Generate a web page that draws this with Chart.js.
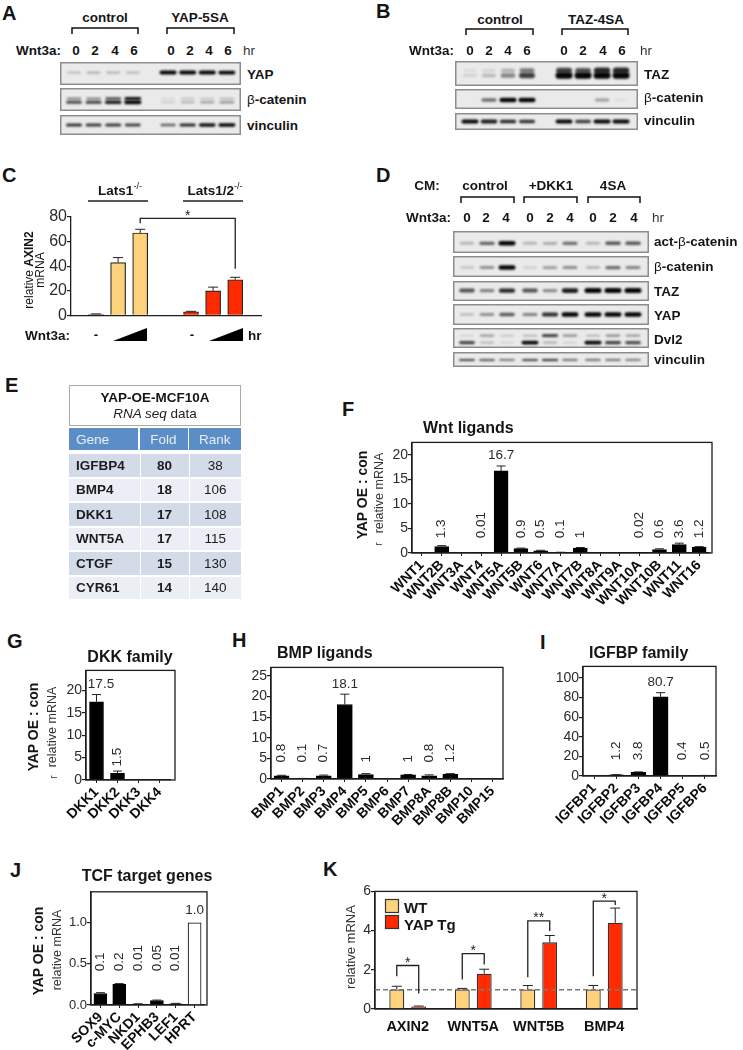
<!DOCTYPE html>
<html>
<head>
<meta charset="utf-8">
<script src="https://cdn.jsdelivr.net/npm/chart.js@4/dist/chart.umd.min.js"></script>
<style>
html,body{margin:0;padding:0;background:#fff;}
#page{position:relative;width:743px;height:1050px;overflow:hidden;background:#fff;filter:blur(0.35px);font-family:"Liberation Sans",Arial,sans-serif;color:#151515;}
#page canvas{position:absolute;}
.t{position:absolute;white-space:nowrap;line-height:1;}
.b{position:absolute;}
.c{position:absolute;box-sizing:border-box;display:flex;align-items:center;font-size:13.5px;color:#1c1c1c;}
sup{font-size:9px;font-weight:400;line-height:0;position:relative;top:-1px;vertical-align:super;}
</style>
</head>
<body>
<div id="page"></div>
<script>
/* ---------- DATA ---------- */
// Panel A blots
const hoursA = ['0','2','4','6'];
const blotA_YAP = [.16,.22,.2,.18,1,1,1,.95];
const blotA_Bcat = [.65,.7,.85,1,.1,.22,.27,.32];
const blotA_BcatUpper = [.4,.4,.65,.9,.06,.14,.14,.22];
const blotA_Vinculin = [.75,.72,.72,.68,.55,.8,.9,1];
// Panel B blots
const blotB_TAZ = [.08,.18,.4,.7,1,1,1,1];
const blotB_TAZUpper = [.02,.06,.22,.45,.7,.62,.8,.8];
const blotB_Bcat = [0,.5,1,1,0,0,.3,.03];
const blotB_Vinculin = [1,.85,.8,.75,.95,.7,1,1];
// Panel D blots
const hoursD = ['0','2','4'];
const blotD_Act = [.22,.55,1,.22,.25,.5,.22,.6,.6];
const blotD_Bcat = [.14,.36,1,.1,.32,.38,.22,.52,.42];
const blotD_TAZ = [.62,.42,.8,.62,.38,.85,1,1,1];
const blotD_YAP = [.18,.36,.58,.42,.78,.95,1,1,1];
const blotD_Dvl2 = [.68,.18,.08,.95,.22,.1,1,.7,.65];
const blotD_Dvl2Upper = [.08,.32,.14,.22,.75,.38,.22,.38,.32];
const blotD_Vinculin = [.7,.62,.55,.7,.78,.58,.58,.58,.52];
// Panel C
const lats1Values = [1,43,67];
const lats1Errors = [1.2,47,70];
const lats12Values = [3,20,29];
const lats12Errors = [3.3,23,31];
const cTicks = [0,20,40,60,80];
// Panel E
const tableGenes = ['IGFBP4','BMP4','DKK1','WNT5A','CTGF','CYR61'];
const tableFold = ['80','18','17','17','15','14'];
const tableRank = ['38','106','108','115','130','140'];
// Panel F
const wntGenes = ['WNT1','WNT2B','WNT3A','WNT4','WNT5A','WNT5B','WNT6','WNT7A','WNT7B','WNT8A','WNT9A','WNT10A','WNT10B','WNT11','WNT16'];
const wntValues = [0,1.3,0,0.01,16.7,.9,.45,.1,1,0,0,.02,.7,1.7,1.2];
const wntErrors = [0,1.5,0,0,17.7,1,.55,.15,1.12,0,0,0,.85,2,1.3];
const wntLabels = ['','1.3','','0.01','16.7','0.9','0.5','0.1','1','','','0.02','0.6','3.6','1.2'];
// Panel G
const dkkGenes = ['DKK1','DKK2','DKK3','DKK4'];
const dkkValues = [17.5,1.5,0,0];
const dkkErrors = [19.1,2,0,0];
const dkkLabels = ['17.5','1.5','',''];
// Panel H
const bmpGenes = ['BMP1','BMP2','BMP3','BMP4','BMP5','BMP6','BMP7','BMP8A','BMP8B','BMP10','BMP15'];
const bmpValues = [.8,.1,.8,18.1,1.05,0,1,.8,1.2,0,0];
const bmpErrors = [.9,.15,.95,20.6,1.3,0,1.1,1,1.3,0,0];
const bmpLabels = ['0.8','0.1','0.7','18.1','1','','1','0.8','1.2','',''];
// Panel I
const igfGenes = ['IGFBP1','IGFBP2','IGFBP3','IGFBP4','IGFBP5','IGFBP6'];
const igfValues = [0,1.2,3.8,80.7,.4,.5];
const igfErrors = [0,1.4,4.2,85,.5,.6];
const igfLabels = ['','1.2','3.8','80.7','0.4','0.5'];
// Panel J
const tcfGenes = ['SOX9','c-MYC','NKD1','EPHB3','LEF1','HPRT'];
const tcfValues = [.14,.25,.012,.055,.015,1];
const tcfErrors = [.15,.26,.015,.06,.02,1];
const tcfLabels = ['0.1','0.2','0.01','0.05','0.01','1.0'];
// Panel K
const kGenes = ['AXIN2','WNT5A','WNT5B','BMP4'];
const kWT = [1,1,1,1];
const kWTErrors = [1.16,1.05,1.2,1.2];
const kTg = [.13,1.8,3.4,4.4];
const kTgErrors = [.15,2.03,3.75,5.15];
const kSeries = ['WT','YAP Tg'];
const kBracketTop = [2.22,2.83,4.5,5.5];
const kBracketLeft = [1.67,1.5,1.62,1.67];
const kBracketRight = [.79,2.27,3.98,5.3];
const kStars = ['*','*','**','*'];

/* ---------- HELPERS ---------- */
const FONT = '"Liberation Sans", Arial, sans-serif';
Chart.defaults.font.family = FONT;
Chart.defaults.animation = false;
const page = document.getElementById('page');
const INK = '#1e1e1e', GREY = '#2b2b2b';

function T(html,x,y,o={}){
  const e=document.createElement('div');e.className='t';e.innerHTML=html;
  e.style.left=x+'px';e.style.top=y+'px';
  e.style.fontSize=(o.s||13.5)+'px';
  e.style.fontWeight=o.n?'400':'700';
  if(o.i)e.style.fontStyle='italic';
  e.style.color=o.c||'#151515';
  const ax=o.a==='l'?'0':(o.a==='r'?'-100%':'-50%');
  e.style.transform=`translate(${ax},-50%)`+(o.r?` rotate(${o.r}deg)`:'');
  page.appendChild(e);return e;
}
function newCanvas(l,t,w,h){
  const c=document.createElement('canvas');
  c.width=w;c.height=h;c.style.left=l+'px';c.style.top=t+'px';c.style.width=w+'px';c.style.height=h+'px';
  page.appendChild(c);return c.getContext('2d');
}
function bracket(x0,x1,y,d=6){
  const s=document.createElementNS('http://www.w3.org/2000/svg','svg');
  s.setAttribute('class','b');s.setAttribute('width',743);s.setAttribute('height',1050);
  s.style.left='0';s.style.top='0';s.style.pointerEvents='none';
  s.innerHTML=`<path d="M${x0} ${y+d}V${y}H${x1}V${y+d}" fill="none" stroke="#111" stroke-width="1.5"/>`;
  page.appendChild(s);
}
function svgShape(inner){
  const s=document.createElementNS('http://www.w3.org/2000/svg','svg');
  s.setAttribute('class','b');s.setAttribute('width',743);s.setAttribute('height',1050);
  s.style.left='0';s.style.top='0';s.innerHTML=inner;page.appendChild(s);
}

/* Blot strip: each band is a scatter point placed by the chart's scales */
const bandPlugin = {
  id:'bands',
  beforeDraw(ch){
    const {ctx,width,height}=ch;
    ctx.save();ctx.fillStyle='#eaeaea';ctx.fillRect(0,0,width,height);
    ctx.strokeStyle='#8d8d8d';ctx.lineWidth=1.5;ctx.strokeRect(.75,.75,width-1.5,height-1.5);ctx.restore();
  },
  afterDatasetsDraw(ch){
    const {ctx}=ch;
    ch.data.datasets.forEach((ds,di)=>{
      const meta=ch.getDatasetMeta(di);
      meta.data.forEach((el,i)=>{
        const v=ds.data[i].v; if(!v)return;
        const w=ds.bandW*(.78+.22*v), h=ds.bandH*(.45+.55*v);
        ctx.save();ctx.filter='blur(0.9px)';
        ctx.fillStyle=`rgba(5,5,5,${Math.min(1,.03+1.02*v)})`;
        ctx.beginPath();ctx.roundRect(el.x-w/2,el.y-h/2,w,h,h/2);ctx.fill();ctx.restore();
      });
    });
  }
};
function strip(box,lanes,rows){
  const [l,t,r,b]=box;
  const ctx=newCanvas(l,t,r-l,b-t);
  const {first,slot,gap,group}=lanes;
  const pos=i=>i+Math.floor(i/group)*gap;
  new Chart(ctx,{type:'scatter',
    data:{datasets:rows.map(row=>({
      data:row.v.map((v,i)=>({x:pos(i),y:row.y,v})),
      pointRadius:0,showLine:false,bandW:row.w||17,bandH:row.h||4}))},
    options:{responsive:false,layout:{padding:0,autoPadding:false},
      plugins:{legend:{display:false},tooltip:{enabled:false}},
      scales:{x:{type:'linear',display:false,min:(l-first)/slot,max:(r-first)/slot},
              y:{type:'linear',display:false,min:0,max:1,reverse:true}}},
    plugins:[bandPlugin]});
}

/* Overlay marks for bar panels: frame, error bars, value labels, reference line, brackets */
function marksPlugin(o){
  return {id:'marks',afterDraw(ch){
    const {ctx,chartArea:a,scales:{x,y}}=ch;
    ctx.save();
    if(o.frame){
      ctx.strokeStyle=INK;ctx.lineWidth=1.3;
      ctx.strokeRect(a.left,a.top,a.right-a.left+(o.extra||0),a.bottom-a.top);
    }
    (o.errs||[]).forEach((errs,di)=>{
      const meta=ch.getDatasetMeta(di);
      const cap=o.cap||4.5;
      ctx.strokeStyle=o.errColor||'#222';ctx.lineWidth=1;
      errs.forEach((e,i)=>{
        const val=ch.data.datasets[di].data[i]; const v=typeof val==='object'?val.y:val;
        if(e<=v)return;
        const px=meta.data[i].x, t=y.getPixelForValue(e), b=y.getPixelForValue(v);
        ctx.beginPath();ctx.moveTo(px,b);ctx.lineTo(px,t);ctx.moveTo(px-cap,t);ctx.lineTo(px+cap,t);ctx.stroke();
      });
    });
    if(o.labels){
      const meta=ch.getDatasetMeta(0);
      ctx.fillStyle=GREY;ctx.font='13.5px '+FONT;
      o.labels.forEach((s,i)=>{
        if(!s)return;
        const px=meta.data[i].x;
        if(i===o.flatIndex){
          ctx.textAlign='center';ctx.textBaseline='middle';
          ctx.fillText(s,px+(o.flatDx||0),y.getPixelForValue(o.flatValue));
        }else{
          ctx.save();ctx.translate(px,y.getPixelForValue(o.labelBase));ctx.rotate(-Math.PI/2);
          ctx.textAlign='left';ctx.textBaseline='middle';ctx.fillText(s,0,0);ctx.restore();
        }
      });
    }
    if(o.refLine!==undefined){
      ctx.strokeStyle='#7a7a7a';ctx.lineWidth=1.6;ctx.setLineDash([5,3]);
      const p=y.getPixelForValue(o.refLine);
      ctx.beginPath();ctx.moveTo(a.left,p);ctx.lineTo(a.right,p);ctx.stroke();ctx.setLineDash([]);
    }
    (o.brackets||[]).forEach(br=>{
      const xa=ch.getDatasetMeta(br.a[0]).data[br.a[1]].x, xb=ch.getDatasetMeta(br.b[0]).data[br.b[1]].x;
      const top=y.getPixelForValue(br.top);
      ctx.strokeStyle='#222';ctx.lineWidth=1.3;
      ctx.beginPath();ctx.moveTo(xa,y.getPixelForValue(br.left));ctx.lineTo(xa,top);ctx.lineTo(xb,top);ctx.lineTo(xb,y.getPixelForValue(br.right));ctx.stroke();
      ctx.fillStyle='#222';ctx.font='14px '+FONT;ctx.textAlign='center';ctx.textBaseline='middle';
      ctx.fillText(br.stars,(xa+xb)/2,top-2.5);
    });
    ctx.restore();
  }};
}
function axisY(o){
  return {min:0,max:o.top,position:'left',
    afterFit(s){s.width=o.ML;},
    border:{display:true,color:INK,width:1.3},
    grid:{display:true,drawOnChartArea:false,drawTicks:true,tickLength:4,color:INK,lineWidth:1.2},
    ticks:{stepSize:o.step,includeBounds:false,padding:0,color:GREY,font:{size:o.tickSize||14},
           callback:o.tickFmt||(v=>v)}};
}
function barPanel(o){
  const [l,t,r,b]=o.plot, ML=50,MT=4,MB=78,extra=o.extra||0,MR=extra+4;
  const ctx=newCanvas(l-ML,t-MT,r-l+ML+MR-extra,b-t+MT+MB);
  new Chart(ctx,{type:'bar',
    data:{labels:o.categories,datasets:[{data:o.values,backgroundColor:o.colors||'#000',borderColor:'#000',borderWidth:1,barThickness:o.barW||14}]},
    options:{responsive:false,layout:{padding:{top:MT,right:MR,left:0,bottom:0},autoPadding:false},
      plugins:{legend:{display:false},tooltip:{enabled:false}},
      scales:{
        x:{afterFit(s){s.height=MB;},
           border:{display:true,color:INK,width:1.3},
           grid:{display:true,drawOnChartArea:false,tickLength:3,color:INK,offset:false,lineWidth:1},
           ticks:{autoSkip:false,minRotation:45,maxRotation:45,padding:1,color:'#0c0c0c',font:{size:14,weight:'700'}}},
        y:axisY({ML,top:o.top,step:o.step,tickSize:o.tickSize,tickFmt:o.tickFmt})}},
    plugins:[marksPlugin({frame:true,extra,errs:[o.errs],labels:o.labels,labelBase:o.labelBase,
      flatIndex:o.flatIndex,flatValue:o.flatValue,flatDx:o.flatDx})]});
}

/* ---------- PANEL LETTERS ---------- */
[['A',2,13],['B',376,11],['C',2,175],['D',376,175],['E',5,385],['F',342,409],['G',7,641],['H',232,640],['I',540,642],['J',10,870],['K',323,869]]
  .forEach(p=>T(p[0],p[1],p[2],{a:'l',s:20}));

/* ---------- PANEL A ---------- */
T('control',105,18);T('YAP-5SA',200,18);bracket(72,138,28);bracket(167,234,28);
T('Wnt3a:',16,51,{a:'l'});
[76,95,115,134,171,190,209,228].forEach((x,i)=>T(hoursA[i%4],x,51));
T('hr',243,51,{a:'l',n:1,c:'#333'});
const lanesA={first:74,slot:19.6,gap:.8,group:4};
strip([60,62,241,85],lanesA,[{y:.46,v:blotA_YAP}]);
strip([60,88,241,111],lanesA,[{y:.46,v:blotA_BcatUpper,h:3.2},{y:.62,v:blotA_Bcat,h:3.8}]);
strip([60,115,241,135],lanesA,[{y:.5,v:blotA_Vinculin,h:3.6}]);
T('YAP',247,75,{a:'l'});T('<span style="font-weight:400">β</span>-catenin',247,100,{a:'l'});T('vinculin',247,126,{a:'l'});

/* ---------- PANEL B ---------- */
T('control',500,20);T('TAZ-4SA',596,20);bracket(466,533,29);bracket(562,628,29);
T('Wnt3a:',409,51,{a:'l'});
[470,489,508,527,564,583,603,622].forEach((x,i)=>T(hoursA[i%4],x,51));
T('hr',640,51,{a:'l',n:1,c:'#333'});
const lanesB={first:470,slot:19,gap:.95,group:4};
strip([455,61,638,86],lanesB,[{y:.38,v:blotB_TAZUpper,h:6.5},{y:.58,v:blotB_TAZ,h:6.5}]);
strip([455,89,638,109],lanesB,[{y:.55,v:blotB_Bcat,h:4.5}]);
strip([455,113,638,130],lanesB,[{y:.5,v:blotB_Vinculin,h:4.2}]);
T('TAZ',644,75,{a:'l'});T('<span style="font-weight:400">β</span>-catenin',644,98,{a:'l'});T('vinculin',644,121,{a:'l'});

/* ---------- PANEL C ---------- */
(function(){
  const l=71,t=217,r=261,b=319,ML=50,MT=24,MB=6,MR=4,slot=22.1,first=96;
  const ctx=newCanvas(l-ML,t-MT,r-l+ML+MR,b-t+MT+MB);
  const band=(arr,off)=>arr.map((v,i)=>({x:i+off,y:v}));
  new Chart(ctx,{type:'bar',
    data:{datasets:[
      {data:band(lats1Values,0),backgroundColor:'#fdd27b',borderColor:'#222',borderWidth:1.2,barThickness:15,grouped:false},
      {data:band(lats12Values,4.3),backgroundColor:'#ff2a00',borderColor:'#222',borderWidth:1.2,barThickness:15,grouped:false}]},
    options:{responsive:false,layout:{padding:{top:MT,right:MR,left:0,bottom:0},autoPadding:false},
      plugins:{legend:{display:false},tooltip:{enabled:false}},
      scales:{
        x:{type:'linear',offset:false,min:(l-first)/slot,max:(r-first)/slot,afterFit(s){s.height=MB;},
           border:{display:true,color:INK,width:1.3},grid:{display:false},ticks:{display:false}},
        y:Object.assign(axisY({ML,top:80,step:20,tickSize:16}),{})}},
    plugins:[marksPlugin({errs:[lats1Errors,lats12Errors],cap:5,
      brackets:[{a:[0,2],b:[1,2],top:78.9,left:75,right:38,stars:'*'}]})]});
})();
T('Lats1<sup>-/-</sup>',120,191);T('Lats1/2<sup>-/-</sup>',215,191);
svgShape('<path d="M88 201H148M183 201H243" stroke="#222" stroke-width="1.6" fill="none"/><polygon points="113,341 147,328 147,341" fill="#000"/><polygon points="209,341 243,328 243,341" fill="#000"/>');
T('relative <b>AXIN2</b>',29,270,{n:1,s:12,r:-90});T('mRNA',40,270,{n:1,s:12,r:-90});
T('Wnt3a:',25,336,{a:'l'});T('-',96,335);T('-',192,335);T('hr',248,336,{a:'l'});

/* ---------- PANEL D ---------- */
T('CM:',427,186);T('control',485,186);T('+DKK1',551,186);T('4SA',613,186);
bracket(461,514,197);bracket(524,577,197);bracket(588,640,197);
T('Wnt3a:',406,218,{a:'l'});
[467,486,506,530,550,570,593,613,634].forEach((x,i)=>T(hoursD[i%3],x,218));
T('hr',652,218,{a:'l',n:1,c:'#333'});
const lanesD={first:467,slot:20,gap:.15,group:3};
strip([453,231,649,253],lanesD,[{y:.56,v:blotD_Act,h:4.5}]);
strip([453,256,649,277],lanesD,[{y:.55,v:blotD_Bcat,h:4.5}]);
strip([453,281,649,301],lanesD,[{y:.48,v:blotD_TAZ,h:5}]);
strip([453,304,649,325],lanesD,[{y:.5,v:blotD_YAP,h:4.6}]);
strip([453,328,649,348],lanesD,[{y:.38,v:blotD_Dvl2Upper,h:3.4},{y:.73,v:blotD_Dvl2,h:3.8}]);
strip([453,352,649,367],lanesD,[{y:.53,v:blotD_Vinculin,h:2.4}]);
[['act-<span style="font-weight:400">β</span>-catenin',242],['<span style="font-weight:400">β</span>-catenin',267],['TAZ',292],['YAP',316],['Dvl2',340],['vinculin',360]]
  .forEach(p=>T(p[0],654,p[1],{a:'l'}));

/* ---------- PANEL E (table) ---------- */
(function(){
  const box=document.createElement('div');box.className='b';
  Object.assign(box.style,{left:'69px',top:'385px',width:'172px',height:'41px',border:'1.5px solid #a9a9a9',boxSizing:'border-box',background:'#fff'});
  page.appendChild(box);
  T('YAP-OE-MCF10A',155,398);
  T('<i>RNA seq</i> data',155,414,{n:1,c:'#222'});
  const cols=[[69,69],[139.5,48],[188.5,52.5]];
  const cell=(x,y,w,h,bg,txt,st)=>{
    const c=document.createElement('div');c.className='c';
    Object.assign(c.style,{left:x+'px',top:y+'px',width:w+'px',height:h+'px',background:bg},st);
    c.textContent=txt;page.appendChild(c);
  };
  ['Gene','Fold','Rank'].forEach((s,j)=>cell(cols[j][0],428,cols[j][1],22,'#5b8ec6',s,
    {color:'#e6edf6',justifyContent:j?'center':'flex-start',paddingLeft:j?'0':'7px'}));
  const rowTop=454,rowH=24.5;
  tableGenes.forEach((g,i)=>{
    const y=rowTop+i*rowH,h=rowH-1.8,bg=i%2?'#ebeff5':'#d3dbe9';
    cell(cols[0][0],y,cols[0][1]+1.5,h,bg,g,{fontWeight:700,paddingLeft:'7px'});
    cell(cols[1][0]+1,y,cols[1][1],h,bg,tableFold[i],{fontWeight:700,justifyContent:'center'});
    cell(cols[2][0]+1,y,cols[2][1]-1,h,bg,tableRank[i],{justifyContent:'center'});
  });
})();

/* ---------- PANEL F ---------- */
barPanel({plot:[412,438,712,553],extra:3,categories:wntGenes,values:wntValues,errs:wntErrors,labels:wntLabels,
  top:22.5,step:5,labelBase:3,flatIndex:4,flatValue:19.8});
T('Wnt ligands',423,428,{a:'l',s:16});
T('YAP OE : con',362,495,{s:14,r:-90});T('relative mRNA',379,493,{n:1,s:12.5,r:-90,c:'#333'});T('r',379,544,{n:1,s:10,r:-90,c:'#333'});

/* ---------- PANEL G ---------- */
barPanel({plot:[86,666,175,780],extra:5,categories:dkkGenes,values:dkkValues,errs:dkkErrors,labels:dkkLabels,
  top:24.5,step:5,labelBase:3,flatIndex:0,flatValue:21.3,flatDx:4.5});
T('DKK family',130,657,{s:16});
T('YAP OE : con',33,727,{s:14,r:-90});T('relative mRNA',52,727,{n:1,s:12.5,r:-90,c:'#333'});T('r',54,777,{n:1,s:10,r:-90,c:'#333'});

/* ---------- PANEL H ---------- */
barPanel({plot:[271,663,503,779],categories:bmpGenes,values:bmpValues,errs:bmpErrors,labels:bmpLabels,
  top:27.1,step:5,labelBase:4,flatIndex:3,flatValue:22.9,barW:15});
T('BMP ligands',277,653,{a:'l',s:16});

/* ---------- PANEL I ---------- */
barPanel({plot:[583,662,716,776],categories:igfGenes,values:igfValues,errs:igfErrors,labels:igfLabels,
  top:111.8,step:20,labelBase:16,flatIndex:3,flatValue:96,barW:15});
T('IGFBP family',589,653,{a:'l',s:16});

/* ---------- PANEL J ---------- */
barPanel({plot:[91,888,207,1005],extra:3,categories:tcfGenes,values:tcfValues,errs:tcfErrors,labels:tcfLabels,
  colors:tcfGenes.map((g,i)=>i===5?'#fff':'#000'),top:1.376,step:.5,labelBase:.41,flatIndex:5,flatValue:1.155,
  barW:13,tickSize:13,tickFmt:v=>Number(v).toFixed(1)});
T('TCF target genes',147,876,{s:16});
T('YAP OE : con',38,951,{s:14,r:-90});T('relative mRNA',57,950,{n:1,s:12.5,r:-90,c:'#333'});

/* ---------- PANEL K ---------- */
(function(){
  const l=375,t=887,r=637,b=1009,ML=40,MT=4,MB=30,MR=6;
  const ctx=newCanvas(l-ML,t-MT,r-l+ML+MR,b-t+MT+MB);
  new Chart(ctx,{type:'bar',
    data:{labels:kGenes,datasets:[
      {label:kSeries[0],data:kWT,backgroundColor:'#fdd27b',borderColor:'#333',borderWidth:1.3},
      {label:kSeries[1],data:kTg,backgroundColor:'#ff2a00',borderColor:'#333',borderWidth:1.3}]},
    options:{responsive:false,layout:{padding:{top:MT,right:MR,left:0,bottom:0},autoPadding:false},
      datasets:{bar:{categoryPercentage:.67,barPercentage:.68}},
      plugins:{legend:{display:false},tooltip:{enabled:false}},
      scales:{
        x:{afterFit(s){s.height=MB;},border:{display:true,color:INK,width:1.3},
           grid:{display:false},
           ticks:{autoSkip:false,maxRotation:0,padding:1,color:'#111',font:{size:14.5,weight:'700'}}},
        y:axisY({ML,top:6,step:2,tickSize:14})}},
    plugins:[marksPlugin({frame:true,errs:[kWTErrors,kTgErrors],cap:5,refLine:.98,
      brackets:kGenes.map((g,i)=>({a:[0,i],b:[1,i],top:kBracketTop[i],left:kBracketLeft[i],right:kBracketRight[i],stars:kStars[i]}))})]});
})();
T('relative mRNA',350,947,{n:1,s:13,r:-90,c:'#333'});
svgShape('<rect x="385.5" y="899.5" width="13" height="13" fill="#fdd27b" stroke="#333" stroke-width="1.2"/><rect x="385.5" y="915.5" width="13" height="13" fill="#ff2a00" stroke="#333" stroke-width="1.2"/>');
T(kSeries[0],404,907,{a:'l',s:15});T(kSeries[1],404,924,{a:'l',s:15});
</script>
</body>
</html>
